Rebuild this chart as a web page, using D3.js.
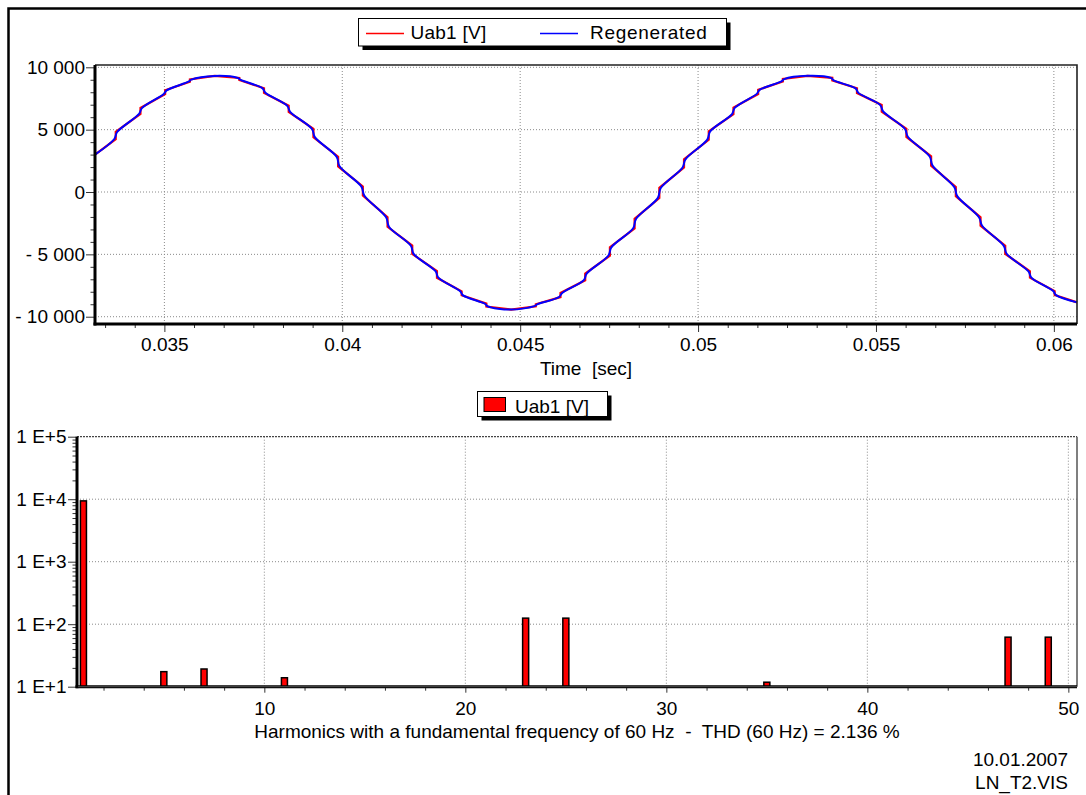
<!DOCTYPE html>
<html>
<head>
<meta charset="utf-8">
<script src="https://cdn.jsdelivr.net/npm/d3@7"></script>
<style>
  body { margin: 0; background: #fff; }
  svg { display: block; font-family: "Liberation Sans", Arial, sans-serif; }
  text { white-space: pre; }
</style>
</head>
<body>
<svg id="chart" width="1086" height="795"></svg>
<script>
// ---- waveform, measured (red): vertical jumps every 1/24 period
const uabTime = [0.03305,
  0.033633, 0.033633, 0.034328, 0.034328, 0.035022, 0.035022, 0.035717, 0.035717, 0.036411,
  0.037106, 0.037106, 0.037800, 0.037800, 0.038494, 0.038494, 0.039189, 0.039189, 0.039883, 0.039883,
  0.040578, 0.040578, 0.041272, 0.041272, 0.041967, 0.041967, 0.042661, 0.042661, 0.043355, 0.043355,
  0.044050, 0.044050, 0.044744,
  0.045439, 0.045439, 0.046133, 0.046133, 0.046828, 0.046828, 0.047522, 0.047522, 0.048216, 0.048216,
  0.048911, 0.048911, 0.049605, 0.049605, 0.050300, 0.050300, 0.050994, 0.050994, 0.051689, 0.051689,
  0.052383, 0.052383, 0.053077,
  0.053772, 0.053772, 0.054466, 0.054466, 0.055161, 0.055161, 0.055855, 0.055855, 0.056550, 0.056550,
  0.057244, 0.057244, 0.057939, 0.057939, 0.058633, 0.058633, 0.059327, 0.059327, 0.060022, 0.060022,
  0.06065];
const uabVolt = [3000,
  4230, 4820, 6260, 6740, 7850, 8160, 8840, 9020, 9310,
  9150, 8980, 8320, 7950, 6920, 6420, 5060, 4390, 2830, 2050,
  440, -290, -2020, -2790, -4300, -4970, -6340, -6880, -7970, -8280,
  -8950, -9180, -9430,
  -9160, -9000, -8430, -8100, -7080, -6540, -5100, -4430, -2920, -2150,
  -480, 330, 1960, 2630, 4190, 4870, 6240, 6770, 7860, 8200,
  8860, 9060, 9320,
  9160, 8940, 8320, 7940, 6980, 6450, 5060, 4420, 2860, 2110,
  400, -340, -2030, -2700, -4310, -4960, -6360, -6870, -7950, -8260,
  -8850];

// ---- waveform, regenerated from harmonics (blue): same steps, slightly rounded
const regenTime = [0.03305,
  0.033593, 0.033673, 0.034288, 0.034368, 0.034982, 0.035062, 0.035677, 0.035757, 0.036411,
  0.037066, 0.037146, 0.037760, 0.037840, 0.038454, 0.038534, 0.039149, 0.039229, 0.039843, 0.039923,
  0.040538, 0.040618, 0.041232, 0.041312, 0.041927, 0.042007, 0.042621, 0.042701, 0.043315, 0.043395,
  0.044010, 0.044090, 0.044744,
  0.045399, 0.045479, 0.046093, 0.046173, 0.046788, 0.046868, 0.047482, 0.047562, 0.048176, 0.048256,
  0.048871, 0.048951, 0.049565, 0.049645, 0.050260, 0.050340, 0.050954, 0.051034, 0.051649, 0.051729,
  0.052343, 0.052423, 0.053077,
  0.053732, 0.053812, 0.054426, 0.054506, 0.055121, 0.055201, 0.055815, 0.055895, 0.056510, 0.056590,
  0.057204, 0.057284, 0.057899, 0.057979, 0.058593, 0.058673, 0.059287, 0.059367, 0.059982, 0.060062,
  0.06065];
const regenVolt = [3000,
  4250, 4810, 6270, 6730, 7860, 8150, 8850, 9010, 9310,
  9140, 8990, 8310, 7960, 6910, 6430, 5050, 4400, 2820, 2060,
  430, -280, -2030, -2780, -4310, -4960, -6350, -6870, -7960, -8290,
  -8960, -9170, -9430,
  -9150, -9010, -8420, -8110, -7070, -6550, -5090, -4440, -2910, -2160,
  -470, 320, 1970, 2620, 4200, 4860, 6250, 6760, 7870, 8190,
  8870, 9050, 9320,
  9150, 8950, 8310, 7950, 6970, 6460, 5050, 4430, 2850, 2120,
  390, -330, -2040, -2690, -4320, -4950, -6370, -6860, -7940, -8270,
  -8850];

// ---- harmonic spectrum
const harmonicOrder = [1, 5, 7, 11, 23, 25, 35, 47, 49];
const harmonicVolt  = [9400, 17.4, 19.2, 13.9, 125, 125, 11.8, 62, 62];

// ---- ticks / labels
const timeTicks = [0.035, 0.04, 0.045, 0.05, 0.055, 0.06];
const voltTicks = [-10000, -5000, 0, 5000, 10000];
const harmTicks = [10, 20, 30, 40, 50];
const logTicks  = [10, 100, 1000, 10000, 100000];
const seriesNames = ['Uab1 [V]', 'Regenerated'];
const seriesColors = ['#ff0000', '#0000ff'];
const timeLabel = 'Time  [sec]';
const harmLabel = 'Harmonics with a fundamental frequency of 60 Hz  -  THD (60 Hz) = 2.136 %';
const footer = ['10.01.2007', 'LN_T2.VIS'];

const svg = d3.select('#chart');
const FONT = 19;

// figure frame
svg.append('path')
  .attr('d', 'M8.5,800V8.5H1090')
  .attr('fill', 'none').attr('stroke', '#000').attr('stroke-width', 2.5);

// ===================== TOP: waveform =====================
const tp = {left: 95, right: 1077, top: 65, bottom: 324};
const xT = d3.scaleLinear().domain([0.03305, 0.06065]).range([tp.left, tp.right]);
const yT = d3.scaleLinear().domain([-10585, 10185]).range([tp.bottom, tp.top]);

const topG = svg.append('g');

// grid
topG.selectAll('line.vgrid').data(timeTicks).join('line')
  .attr('class', 'vgrid')
  .attr('x1', d => xT(d)).attr('x2', d => xT(d))
  .attr('y1', tp.top).attr('y2', tp.bottom)
  .attr('stroke', '#8a8a8a').attr('stroke-dasharray', '1,2');
topG.selectAll('line.hgrid').data(voltTicks).join('line')
  .attr('class', 'hgrid')
  .attr('x1', tp.left).attr('x2', tp.right)
  .attr('y1', d => yT(d)).attr('y2', d => yT(d))
  .attr('stroke', '#8a8a8a').attr('stroke-dasharray', '1,2');

// curves
const red = uabTime.map((t, i) => [t, uabVolt[i]]);
const blue = regenTime.map((t, i) => [t, regenVolt[i]]);
topG.append('path').datum(red)
  .attr('d', d3.line().x(d => xT(d[0])).y(d => yT(d[1])))
  .attr('fill', 'none').attr('stroke', seriesColors[0]).attr('stroke-width', 2.2);
topG.append('path').datum(blue)
  .attr('d', d3.line().curve(d3.curveCatmullRom.alpha(0.5)).x(d => xT(d[0])).y(d => yT(d[1])))
  .attr('fill', 'none').attr('stroke', seriesColors[1]).attr('stroke-width', 2);

// borders
topG.append('path')
  .attr('d', `M${tp.left},${tp.top}H${tp.right}V${tp.bottom}`)
  .attr('fill', 'none').attr('stroke', '#222').attr('stroke-width', 1.6);

// axes
const voltFmt = d => d === 0 ? '0' : (d < 0 ? '- ' : '') + d3.format(',')(Math.abs(d)).replace(/,/g, ' ');
const yMinor = d3.range(-10000, 10001, 1000).filter(d => d % 5000 !== 0);
const tMinor = d3.range(-2, 31).map(i => 0.035 + i * 0.005 / 6)
  .filter(d => d > 0.03305 && d < 0.06065 && Math.abs(Math.round(d / 0.005) * 0.005 - d) > 1e-6);

topG.append('g').attr('transform', `translate(${tp.left},0)`)
  .call(d3.axisLeft(yT).tickValues(yMinor).tickSize(4.5).tickFormat(''));
topG.append('g').attr('transform', `translate(${tp.left},0)`)
  .call(d3.axisLeft(yT).tickValues(voltTicks).tickSize(9).tickPadding(1).tickFormat(voltFmt));
topG.append('g').attr('transform', `translate(0,${tp.bottom})`)
  .call(d3.axisBottom(xT).tickValues(tMinor).tickSize(4).tickFormat(''));
topG.append('g').attr('transform', `translate(0,${tp.bottom})`)
  .call(d3.axisBottom(xT).tickValues(timeTicks).tickSize(8).tickPadding(6).tickFormat(d3.format('~g')));

topG.append('line').attr('x1', tp.left).attr('x2', tp.left).attr('y1', tp.top).attr('y2', tp.bottom + 1.5)
  .attr('stroke', '#000').attr('stroke-width', 3);
topG.append('line').attr('x1', tp.left - 1.5).attr('x2', tp.right).attr('y1', tp.bottom).attr('y2', tp.bottom)
  .attr('stroke', '#000').attr('stroke-width', 3);

topG.append('text').attr('x', (tp.left + tp.right) / 2).attr('y', 375)
  .attr('text-anchor', 'middle').attr('font-size', FONT).text(timeLabel);

// ===================== BOTTOM: spectrum =====================
const bp = {left: 77, right: 1077, top: 436.7, bottom: 686.7};
const xB = d3.scaleLinear().domain([0.68, 50.43]).range([bp.left, bp.right]);
const yB = d3.scaleLog().domain([10, 1e5]).range([bp.bottom, bp.top]);

const botG = svg.append('g');

botG.selectAll('line.vgrid').data(harmTicks).join('line')
  .attr('class', 'vgrid')
  .attr('x1', d => xB(d)).attr('x2', d => xB(d))
  .attr('y1', bp.top).attr('y2', bp.bottom)
  .attr('stroke', '#8a8a8a').attr('stroke-dasharray', '1,2');
botG.selectAll('line.hgrid').data(logTicks.slice(1, -1)).join('line')
  .attr('class', 'hgrid')
  .attr('x1', bp.left).attr('x2', bp.right)
  .attr('y1', d => yB(d)).attr('y2', d => yB(d))
  .attr('stroke', '#8a8a8a').attr('stroke-dasharray', '1,2');
// top line & right border
botG.append('line').attr('x1', bp.left).attr('x2', bp.right).attr('y1', bp.top).attr('y2', bp.top)
  .attr('stroke', '#444').attr('stroke-width', 1.2).attr('stroke-dasharray', '2,1');
botG.append('line').attr('x1', bp.right).attr('x2', bp.right).attr('y1', bp.top).attr('y2', bp.bottom)
  .attr('stroke', '#555').attr('stroke-width', 1.5);

// bars
const barW = 0.3;
botG.selectAll('rect.bar').data(harmonicOrder).join('rect')
  .attr('class', 'bar')
  .attr('x', d => xB(d - barW / 2))
  .attr('width', d => xB(d + barW / 2) - xB(d - barW / 2))
  .attr('y', (d, i) => yB(harmonicVolt[i]))
  .attr('height', (d, i) => yB(10) - yB(harmonicVolt[i]))
  .attr('fill', '#ff0000').attr('stroke', '#000').attr('stroke-width', 1.5);

// axes
const logMinor = yB.ticks().filter(d => !logTicks.includes(d));
const harmMinor = d3.range(2, 51, 2).filter(d => d % 10 !== 0);
botG.append('g').attr('transform', `translate(${bp.left},0)`)
  .call(d3.axisLeft(yB).tickValues(logMinor).tickSize(4.5).tickFormat(''));
botG.append('g').attr('transform', `translate(${bp.left},0)`)
  .call(d3.axisLeft(yB).tickValues(logTicks).tickSize(9).tickPadding(1.5)
    .tickFormat(d => '1 E+' + Math.round(Math.log10(d))));
botG.append('g').attr('transform', `translate(0,${bp.bottom})`)
  .call(d3.axisBottom(xB).tickValues(harmMinor).tickSize(4).tickFormat(''));
botG.append('g').attr('transform', `translate(0,${bp.bottom})`)
  .call(d3.axisBottom(xB).tickValues(harmTicks).tickSize(6).tickPadding(9));

botG.append('line').attr('x1', bp.left).attr('x2', bp.left).attr('y1', bp.top).attr('y2', bp.bottom + 1.5)
  .attr('stroke', '#000').attr('stroke-width', 3);
botG.append('line').attr('x1', bp.left - 1.5).attr('x2', bp.right).attr('y1', bp.bottom).attr('y2', bp.bottom)
  .attr('stroke', '#000').attr('stroke-width', 3);
botG.append('line').attr('x1', bp.left + 1.5).attr('x2', bp.right).attr('y1', bp.bottom).attr('y2', bp.bottom)
  .attr('stroke', '#9a9a9a').attr('stroke-width', 1).attr('stroke-dasharray', '1,1');

botG.append('text').attr('x', (bp.left + bp.right) / 2).attr('y', 738)
  .attr('text-anchor', 'middle').attr('font-size', FONT).text(harmLabel);

// common axis styling
svg.selectAll('.tick line').attr('stroke', '#333');
svg.selectAll('.tick text').attr('font-size', FONT).attr('fill', '#000')
  .attr('font-family', '"Liberation Sans", Arial, sans-serif');
svg.selectAll('.domain').remove();

// footer
svg.selectAll('text.footer').data(footer).join('text')
  .attr('class', 'footer')
  .attr('x', 1068).attr('y', (d, i) => 766 + i * 23)
  .attr('text-anchor', 'end').attr('font-size', FONT).text(d => d);

// ===================== legends =====================
function legendBox(x, y, w, h) {
  const g = svg.append('g');
  g.append('rect').attr('x', x + 4).attr('y', y + 4).attr('width', w).attr('height', h).attr('fill', '#000');
  g.append('rect').attr('x', x).attr('y', y).attr('width', w).attr('height', h)
    .attr('fill', '#fff').attr('stroke', '#000').attr('stroke-width', 1);
  return g;
}
const lg1 = legendBox(358.5, 18.5, 368, 27.5);
const lg1X = [366, 540];
const lg1T = [410.5, 590];
seriesNames.forEach((name, i) => {
  lg1.append('line').attr('x1', lg1X[i]).attr('x2', lg1X[i] + 38).attr('y1', 33.5).attr('y2', 33.5)
    .attr('stroke', seriesColors[i]).attr('stroke-width', 1.5);
  lg1.append('text').attr('x', lg1T[i]).attr('y', 39).attr('font-size', FONT)
    .attr('letter-spacing', i === 1 ? 0.7 : 0.25).text(name);
});

const lg2 = legendBox(477.5, 391.5, 130, 25);
lg2.append('rect').attr('x', 484).attr('y', 397.5).attr('width', 21.5).attr('height', 14)
  .attr('fill', seriesColors[0]).attr('stroke', '#000').attr('stroke-width', 1);
lg2.append('text').attr('x', 515).attr('y', 412.5).attr('font-size', FONT).text(seriesNames[0]);
</script>
</body>
</html>
